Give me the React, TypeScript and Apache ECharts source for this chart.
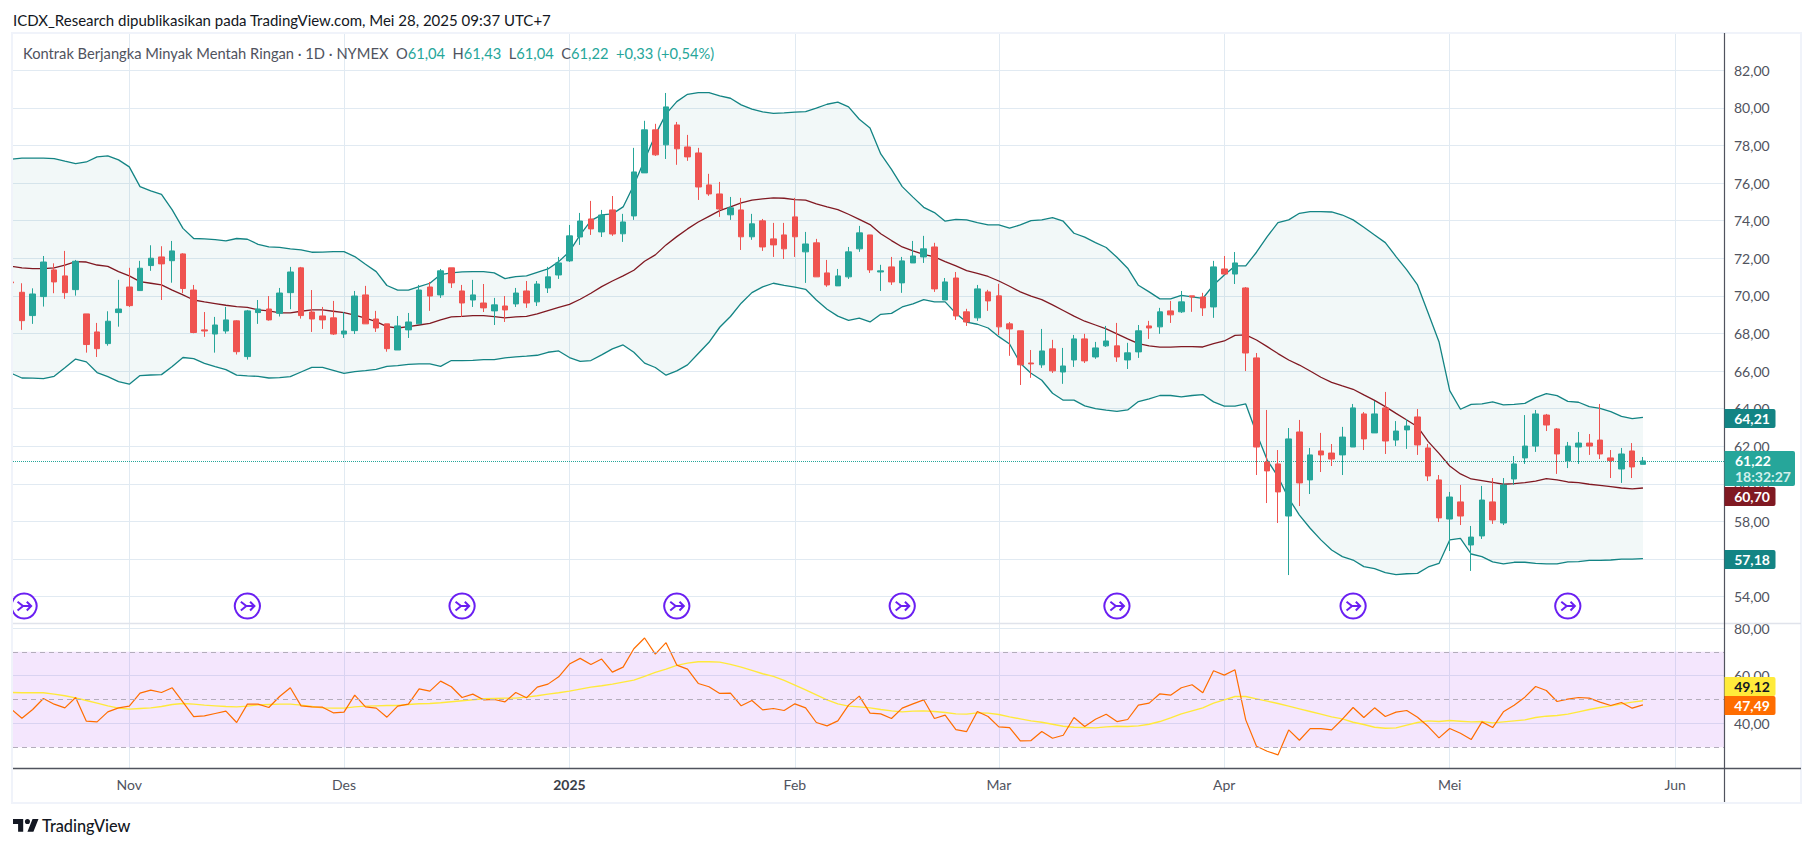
import React, { useEffect, useRef } from "react";
import * as echarts from "echarts";

const opens = [70.74,70.19,68.95,69.96,71.38,71.06,70.33,69.04,68.08,67.46,69.11,70.47,70.28,71.61,72.07,71.87,72.23,70.31,68.19,67.97,68.13,68.67,66.77,69.11,69.30,69.07,70.17,71.49,69.14,68.93,68.83,67.97,68.15,70.05,68.77,68.51,67.12,68.19,68.51,70.47,70.05,71.49,70.26,69.78,69.62,69.20,69.46,69.57,70.26,69.68,70.42,71.11,71.86,73.13,74.09,73.40,74.57,
73.30,74.25,76.54,78.83,78.03,79.09,77.92,77.60,75.90,75.42,74.31,74.57,73.14,73.99,73.03,73.24,74.20,72.34,72.82,71.22,70.53,71.01,72.50,73.24,71.27,71.54,70.69,71.75,72.07,72.60,69.78,70.95,69.15,68.83,70.21,70.00,68.51,68.14,66.43,66.33,67.18,65.95,66.59,67.71,66.75,67.34,67.34,66.59,67.02,68.40,68.35,69.20,69.15,70.00,69.94,69.41,
71.43,71.16,70.42,66.70,61.16,61.06,58.29,62.76,60.21,61.75,61.64,61.54,61.96,63.72,62.71,64.04,62.33,62.87,63.56,61.91,60.21,58.13,59.04,56.75,57.23,59.04,57.92,60.26,61.38,62.01,63.66,62.92,61.22,61.96,62.17,62.33,61.38,60.79,61.75,61.04];
const closes = [70.69,68.68,70.10,71.80,70.74,70.17,71.84,67.41,67.19,68.65,69.30,69.48,71.47,72.00,71.70,72.39,70.39,68.05,68.13,68.45,68.72,67.03,69.20,69.30,68.72,70.15,71.27,68.95,68.77,68.72,67.97,68.13,69.99,68.51,68.29,67.19,68.40,68.61,70.31,69.99,71.33,70.69,69.62,70.05,69.36,69.52,69.25,70.15,69.62,70.63,71.01,71.75,73.19,73.98,73.56,74.30,73.29,
73.93,76.59,78.83,77.50,80.05,77.82,77.39,75.79,75.42,74.62,74.68,73.14,73.83,72.60,72.71,72.50,73.14,72.76,71.01,70.58,71.06,72.34,73.35,71.38,71.33,70.74,71.86,72.12,72.50,70.37,70.74,68.93,68.61,70.37,69.73,68.35,68.24,66.33,66.38,67.07,66.01,66.27,67.71,66.54,67.23,67.60,66.75,66.97,68.14,68.29,69.15,68.99,69.68,69.94,69.36,71.54,
71.16,71.75,66.96,61.96,60.69,59.57,62.39,60.05,61.54,61.54,61.32,62.49,64.04,62.39,63.72,62.28,62.81,63.08,62.07,60.42,58.19,59.30,58.29,57.17,59.14,58.08,59.94,61.06,62.01,63.72,63.13,61.59,62.01,62.17,62.01,61.59,61.24,61.59,60.90,61.22];
const highs = [70.76,70.67,70.40,72.12,71.73,72.39,71.91,69.04,68.56,69.18,70.85,71.49,71.86,72.69,72.64,72.92,72.27,70.58,69.14,68.88,69.41,68.70,69.25,69.78,69.99,70.42,71.54,71.54,70.31,69.41,69.73,69.14,70.26,70.53,69.20,68.51,68.93,69.09,70.58,70.74,71.43,71.49,70.58,70.85,70.63,69.89,69.99,70.42,70.79,70.79,71.54,72.07,73.77,74.41,75.05,74.57,75.31,
74.36,77.87,79.31,79.15,80.79,79.25,78.56,77.87,76.49,76.06,75.26,75.21,74.36,74.09,73.88,73.88,75.21,73.40,73.03,71.91,71.43,72.60,73.72,73.24,71.65,72.07,72.07,72.92,73.19,72.82,70.95,71.27,69.31,70.58,70.32,70.64,68.61,68.14,67.12,68.24,67.66,67.23,67.92,67.98,67.55,68.40,68.56,67.50,68.45,68.67,69.36,69.73,70.26,70.00,70.16,71.86,
72.12,72.33,70.47,66.96,63.93,61.80,62.97,63.40,61.91,62.71,62.12,63.03,64.25,63.82,64.41,64.89,63.34,63.45,63.98,62.12,60.47,59.57,59.94,57.76,59.89,60.31,60.31,61.48,63.66,63.93,63.72,62.97,62.23,62.76,62.65,64.25,61.80,61.91,62.17,61.43];
const lows = [70.67,68.19,68.51,69.43,70.14,69.84,70.01,66.98,66.75,67.35,68.36,69.41,70.26,71.33,69.78,70.70,70.14,68.01,67.82,66.98,67.99,66.88,66.61,68.51,68.68,68.90,69.29,68.79,68.08,68.24,67.92,67.76,67.97,68.51,68.08,67.03,67.12,67.76,68.51,69.20,69.89,70.42,68.88,69.41,69.14,68.45,68.61,69.41,69.36,69.46,70.15,70.90,71.80,72.71,73.24,73.13,73.19,
72.87,74.04,76.54,77.44,77.28,76.97,77.18,75.10,75.32,74.20,74.04,72.44,72.98,72.39,72.07,71.96,72.07,70.69,71.01,70.48,70.53,70.90,72.34,71.22,70.26,70.58,70.16,71.75,71.75,70.21,69.78,68.72,68.40,68.67,69.20,67.92,66.81,65.26,65.64,66.17,65.90,65.32,66.22,66.43,66.65,67.28,66.49,66.11,66.70,67.71,67.98,68.56,69.09,69.15,68.93,68.83,
71.16,70.63,66.00,60.47,58.98,57.92,55.15,58.82,59.46,60.63,60.95,60.47,61.96,61.80,62.71,61.59,62.01,61.86,61.54,60.15,57.97,56.43,57.81,55.37,57.07,57.87,57.81,59.94,61.06,61.70,62.81,60.53,60.84,61.06,61.54,61.32,60.31,60.05,60.31,61.04];

const bbUpper = [77.27,77.32,77.32,77.32,77.30,77.16,77.03,77.12,77.39,77.44,77.23,76.86,75.81,75.58,75.40,74.57,73.59,73.05,73.03,72.99,72.92,73.05,73.01,72.74,72.60,72.58,72.50,72.44,72.32,72.33,72.35,72.35,72.09,71.68,71.29,70.55,70.30,70.30,70.49,70.67,71.13,71.22,71.27,71.29,71.29,71.22,70.92,71.02,71.06,71.25,71.43,71.82,72.35,73.24,74.00,
74.31,74.36,74.73,75.90,77.23,78.56,79.68,80.33,80.72,80.81,80.81,80.64,80.51,80.16,79.93,79.78,79.71,79.73,79.77,79.80,79.98,80.19,80.30,80.05,79.39,78.93,77.55,76.73,75.81,75.25,74.71,74.43,73.97,74.07,74.04,73.90,73.77,73.77,73.60,73.77,74.00,74.04,74.16,73.97,73.33,73.12,72.83,72.57,72.05,71.47,70.56,70.21,69.84,69.84,70.03,69.94,69.86,70.58,
71.11,71.59,71.59,72.32,73.15,73.89,74.04,74.39,74.48,74.48,74.46,74.30,74.04,73.65,73.24,72.83,72.09,71.38,70.58,69.07,67.56,64.96,63.97,64.23,64.25,64.36,64.20,64.23,64.28,64.59,64.80,64.69,64.39,64.34,64.11,64.02,63.84,63.59,63.47,63.54];
const bbMiddle = [71.57,71.49,71.45,71.45,71.49,71.64,71.82,71.80,71.64,71.57,71.29,71.06,70.76,70.67,70.58,70.30,70.05,69.78,69.68,69.59,69.50,69.43,69.39,69.25,69.20,69.09,69.09,69.18,69.25,69.25,69.18,69.11,68.98,68.81,68.63,68.36,68.29,68.36,68.45,68.54,68.72,68.88,68.91,68.95,68.95,68.90,68.83,68.88,68.91,69.04,69.22,69.39,69.55,69.82,70.14,
70.49,70.79,71.06,71.36,71.84,72.18,72.71,73.15,73.56,73.93,74.23,74.53,74.73,74.94,75.09,75.16,75.21,75.19,75.12,75.09,74.89,74.73,74.59,74.34,74.07,73.79,73.30,72.94,72.60,72.39,72.21,72.07,71.82,71.59,71.34,71.20,71.03,70.79,70.51,70.21,69.98,69.80,69.52,69.22,68.92,68.65,68.45,68.24,67.98,67.71,67.46,67.34,67.27,67.27,67.30,67.30,67.28,67.46,
67.60,67.90,67.92,67.65,67.30,66.93,66.59,66.32,66.00,65.67,65.40,65.21,65.03,64.73,64.44,64.11,63.75,63.40,63.04,62.25,61.62,60.95,60.53,60.26,60.17,60.08,59.98,60.01,60.07,60.15,60.28,60.21,60.10,60.07,59.98,59.92,59.85,59.78,59.73,59.78];
const bbLower = [65.88,65.63,65.62,65.60,65.72,66.17,66.64,66.49,65.92,65.70,65.44,65.30,65.76,65.79,65.81,66.24,66.72,66.66,66.41,66.24,66.08,65.78,65.74,65.72,65.63,65.65,65.70,65.95,66.20,66.20,66.04,65.88,65.97,66.02,66.09,66.25,66.29,66.36,66.38,66.38,66.25,66.56,66.56,66.57,66.61,66.61,66.70,66.75,66.79,66.84,67.00,67.07,66.72,66.52,66.56,
66.86,67.18,67.39,67.00,66.42,66.19,65.78,66.01,66.33,66.93,67.53,68.33,68.90,69.61,70.17,70.48,70.67,70.56,70.46,70.35,69.78,69.29,68.92,68.70,68.81,68.61,69.02,69.07,69.41,69.57,69.80,69.68,69.68,69.07,68.60,68.49,68.29,67.83,67.44,66.42,65.88,65.51,64.82,64.45,64.45,64.15,64.00,63.92,63.86,63.93,64.38,64.52,64.70,64.70,64.63,64.70,64.75,64.36,
64.14,64.14,64.25,62.69,61.27,60.38,59.23,58.34,57.64,57.02,56.48,56.13,55.95,55.60,55.49,55.28,55.17,55.22,55.24,55.58,55.77,57.02,57.10,56.27,56.13,55.85,55.74,55.83,55.83,55.77,55.74,55.74,55.85,55.86,55.93,55.93,55.95,56.00,56.00,56.02];

const rsi = [45.97,42.19,45.83,50.45,48.07,46.53,50.87,40.93,40.65,44.85,46.53,47.23,52.69,53.95,52.97,54.93,48.91,42.88,43.16,44.15,45.13,40.37,48.07,48.07,46.67,51.29,54.93,47.37,46.95,46.81,44.43,44.71,51.85,46.95,46.39,42.61,47.23,48.07,54.51,53.53,57.73,55.35,50.87,52.27,49.89,50.03,49.05,52.97,50.73,55.21,56.47,59.55,64.87,67.26,64.73,66.98,61.51,63.61,71.32,75.80,69.08,73.84,64.45,62.77,56.75,55.35,52.55,52.69,47.37,49.61,45.69,46.25,45.41,48.21,46.53,40.37,38.96,41.07,47.65,51.43,44.29,44.01,42.05,46.39,
48.21,49.89,42.05,43.45,37.42,36.58,44.99,42.89,38.54,38.26,32.66,32.80,36.58,33.78,35.04,42.46,38.68,41.76,43.87,40.78,41.63,47.65,48.49,52.41,51.85,54.93,56.19,52.83,62.07,60.25,62.49,41.48,30.42,28.32,26.78,37.28,32.94,37.84,37.84,37.28,41.76,46.67,42.46,46.53,42.88,44.71,45.41,42.61,38.68,33.92,37.84,35.88,33.22,40.64,38.26,44.85,47.65,51.01,55.49,53.81,49.19,50.17,50.87,50.59,48.91,47.51,48.77,46.39,47.79];
const rsiMa = [52.97,52.83,52.83,52.83,52.27,51.57,50.73,49.61,48.49,47.37,46.39,45.97,46.25,46.53,47.09,47.93,48.35,48.07,47.65,47.37,47.09,46.95,47.23,47.79,47.93,48.07,48.07,47.65,47.09,46.53,46.39,46.39,46.95,47.23,47.37,47.51,47.51,47.93,48.21,48.35,48.63,49.05,49.47,49.89,50.31,50.45,50.59,50.59,51.01,51.57,52.27,52.83,53.53,54.37,55.21,55.77,56.47,57.31,58.15,59.69,61.37,62.77,64.31,65.29,65.85,65.85,65.71,64.73,63.61,62.21,60.81,59.69,58.01,56.05,54.09,51.99,49.89,48.21,47.23,46.95,46.53,45.83,45.27,44.85,
45.13,45.27,44.99,44.57,44.01,43.87,44.43,44.29,43.73,42.75,41.91,41.07,40.50,39.66,38.82,38.40,38.26,38.12,38.54,38.82,38.68,38.96,39.66,40.78,42.33,44.01,45.27,46.53,48.49,49.89,51.29,51.29,50.31,49.33,48.35,47.23,46.11,44.99,43.87,42.75,41.91,40.50,39.52,38.40,37.98,38.12,39.25,40.37,41.07,40.78,41.20,40.92,40.64,40.78,40.22,40.64,41.07,41.48,42.46,43.03,43.31,43.87,44.85,45.83,46.67,47.37,48.21,48.91,49.47];

const monthIndex = [11, 31, 52, 73, 92, 113, 134, 155];
const monthLabels = ["Nov", "Des", "2025", "Feb", "Mar", "Apr", "Mei", "Jun"];
const priceTicks = [54, 56, 58, 60, 62, 64, 66, 68, 70, 72, 74, 76, 78, 80, 82];
const rsiTicks = [40, 60, 80];
const rsiLevels = [30, 50, 70];
const eventIndex = [1.2, 22, 42, 62, 83, 103, 125, 145];
const eventLevel = 53.5;
const lastPrice = 61.22;

const FONT = "Lato";
const C_UP = "#26a69a";
const C_DOWN = "#ef5350";
const C_BB = "#138484";
const C_BBM = "#801922";
const C_GRID = "#e1eaf2";
const C_TEXT = "#50535e";

const ICON =
  "path://M13 1.5a11.5 11.5 0 1 0 0.01 0ZM7 9L12 13L7 17M12 13L19.5 13M15.5 9L19.5 13L15.5 17";
const LOGO = "M14 6H2v6h6v9h6V6Zm12 15h-7l6-15h7l-6 15Zm-7-9a3 3 0 1 0 0-6 3 3 0 0 0 0 6Z";

const fmt = (v: number) => v.toFixed(2).replace(".", ",");
const pts = (a: number[]) => a.map((v, i) => [i, v]);

function tag(y0: number, y1: number, w: number, bg: string, fg: string, label: string) {
  return [
    { type: "rect", z: 100, shape: { x: 1724.5, y: y0, width: w, height: y1 - y0, r: [0, 2, 2, 0] }, style: { fill: bg } },
    {
      type: "text", z: 101, x: 1752, y: (y0 + y1) / 2,
      style: { text: label, fill: fg, font: `bold 14px ${FONT}`, align: "center", verticalAlign: "middle" },
    },
  ];
}

function lineSeries(name: string, data: number[], color: string, width: number, xAxisIndex = 0) {
  return {
    type: "line", name, data: pts(data), xAxisIndex, yAxisIndex: xAxisIndex, showSymbol: false, symbol: "none",
    silent: true, lineStyle: { color, width }, z: 3,
  };
}

export default function App() {
  const ref = useRef<HTMLDivElement>(null);
  useEffect(() => {
    document.body.style.margin = "0";
    if (!ref.current) return;
    echarts.graphic.registerShape("tvlogo", echarts.graphic.extendPath(LOGO, {}));
    const chart = echarts.init(ref.current, undefined, { renderer: "svg" });
    const xMin = 0.168;
    const xMax = 159.55;
    const xBase = {
      type: "value", min: xMin, max: xMax,
      splitLine: { show: true, lineStyle: { color: C_GRID, width: 1 } },
      axisLine: { show: false },
    };
    chart.setOption({
      animation: false,
      backgroundColor: "#ffffff",
      grid: [
        { left: 13, top: 33, width: 1711, height: 590 },
        { left: 13, top: 623, width: 1711, height: 145 },
      ],
      xAxis: [
        { ...xBase, gridIndex: 0, axisTick: { show: false, customValues: monthIndex }, axisLabel: { show: false, customValues: monthIndex } },
        {
          ...xBase, gridIndex: 1,
          axisTick: { show: false, customValues: monthIndex },
          axisLabel: {
            show: true, customValues: monthIndex, margin: 9,
            color: C_TEXT, fontFamily: FONT, fontSize: 14,
            formatter: (v: number) => {
              const s = monthLabels[monthIndex.indexOf(Math.round(v))] ?? "";
              return s === "2025" ? `{b|${s}}` : s;
            },
            rich: { b: { fontWeight: "bold", color: "#3a3d48", fontFamily: FONT, fontSize: 14 } },
          },
        },
      ],
      yAxis: [
        {
          type: "value", gridIndex: 0, position: "right", min: 52.6, max: 83.98,
          splitLine: { show: true, lineStyle: { color: C_GRID, width: 1 } },
          axisLine: { show: false },
          axisTick: { show: false, customValues: priceTicks },
          axisLabel: { customValues: priceTicks, margin: 10, padding: [0, 0, 2, 0], color: C_TEXT, fontFamily: FONT, fontSize: 14, formatter: fmt },
        },
        {
          type: "value", gridIndex: 1, position: "right", min: 21.3, max: 82.1,
          splitLine: { show: true, lineStyle: { color: C_GRID, width: 1 } },
          axisLine: { show: false },
          axisTick: { show: false, customValues: rsiTicks },
          axisLabel: { customValues: rsiTicks, margin: 10, padding: [0, 0, 2, 0], color: C_TEXT, fontFamily: FONT, fontSize: 14, formatter: fmt },
        },
      ],
      series: [
        {
          type: "custom", name: "bbFill", coordinateSystem: "cartesian2d", xAxisIndex: 0, yAxisIndex: 0,
          clip: true, silent: true, z: 1,
          data: bbUpper.map((v, i) => [i, v, bbLower[i]]),
          encode: { x: 0, y: [1, 2] },
          renderItem: (params: any, api: any) => {
            if (params.dataIndex !== 0) return null;
            const top = bbUpper.map((v, i) => api.coord([i, v]));
            const bottom = bbLower.map((v, i) => api.coord([i, v])).reverse();
            return {
              type: "polygon", silent: true,
              shape: { points: [...top, ...bottom] },
              style: { fill: "rgba(19,132,132,0.055)", stroke: "none" },
            };
          },
        },
        lineSeries("bbUpper", bbUpper, C_BB, 1.3),
        lineSeries("bbLower", bbLower, C_BB, 1.3),
        lineSeries("bbMiddle", bbMiddle, C_BBM, 1.3),
        {
          type: "candlestick", name: "price", z: 5, barWidth: 6, silent: true,
          data: opens.map((o, i) => [i, o, closes[i], lows[i], highs[i]]),
          itemStyle: { color: C_UP, color0: C_DOWN, borderColor: C_UP, borderColor0: C_DOWN, borderWidth: 1 },
          markLine: {
            silent: true, symbol: "none", label: { show: false },
            lineStyle: { color: C_UP, type: "dotted", width: 1 },
            data: [{ yAxis: lastPrice }],
          },
        },
        {
          type: "scatter", name: "events", z: 6, silent: true, symbol: ICON, symbolSize: 25, symbolKeepAspect: true,
          data: eventIndex.map((x) => [x, eventLevel]),
          itemStyle: { color: "#ffffff", borderColor: "#6a1ff2", borderWidth: 2, opacity: 1 },
        },
        {
          ...lineSeries("rsiMa", rsiMa, "#ffe93b", 1.4, 1),
          markArea: {
            silent: true, itemStyle: { color: "rgba(155,28,237,0.11)" },
            data: [[{ yAxis: rsiLevels[0] }, { yAxis: rsiLevels[2] }]],
          },
          markLine: {
            silent: true, symbol: "none", label: { show: false },
            lineStyle: { color: "#b3adbb", type: [5, 4], width: 1 },
            data: rsiLevels.map((v) => ({ yAxis: v })),
          },
        },
        lineSeries("rsi", rsi, "#ff6d00", 1.2, 1),
      ],
      graphic: [
        { type: "rect", z: 19, silent: true, shape: { x: 0, y: 34, width: 12, height: 770 }, style: { fill: "#ffffff" } },
        { type: "rect", z: 20, silent: true, shape: { x: 12, y: 33, width: 1789, height: 770 }, style: { fill: "none", stroke: "#f0f3fa", lineWidth: 2 } },
        { type: "line", z: 21, shape: { x1: 13, y1: 623.5, x2: 1801, y2: 623.5 }, style: { stroke: "#e0e3eb", lineWidth: 1.5 } },
        { type: "line", z: 21, shape: { x1: 13, y1: 768.5, x2: 1801, y2: 768.5 }, style: { stroke: "#50535e", lineWidth: 1.5 } },
        { type: "line", z: 21, shape: { x1: 1724.5, y1: 33, x2: 1724.5, y2: 802 }, style: { stroke: "#50535e", lineWidth: 1.2 } },
        {
          type: "text", z: 30, x: 13, y: 19.5,
          style: {
            text: "ICDX_Research dipublikasikan pada TradingView.com, Mei 28, 2025 09:37 UTC+7",
            fill: "#131722", font: `15px ${FONT}`, verticalAlign: "middle",
          },
        },
        {
          type: "text", z: 30, x: 23, y: 53,
          style: {
            text: "{g|Kontrak Berjangka Minyak Mentah Ringan · 1D · NYMEX  O}{t|61,04  }{g|H}{t|61,43  }{g|L}{t|61,04  }{g|C}{t|61,22  +0,33 (+0,54%)}",
            verticalAlign: "middle",
            rich: {
              g: { fill: C_TEXT, font: `14.7px ${FONT}` },
              t: { fill: C_UP, font: `14.7px ${FONT}` },
            },
          },
        },
        ...tag(409, 428, 51, C_BB, "#ffffff", "64,21"),
        { type: "rect", z: 100, shape: { x: 1724.5, y: 451, width: 70.5, height: 35, r: [0, 2, 2, 0] }, style: { fill: C_UP } },
        { type: "text", z: 101, x: 1735, y: 460, style: { text: "61,22", fill: "#ffffff", font: `bold 14px ${FONT}`, verticalAlign: "middle" } },
        { type: "text", z: 101, x: 1735, y: 476, style: { text: "18:32:27", fill: "#d3f0ec", font: `bold 14px ${FONT}`, verticalAlign: "middle" } },
        ...tag(487, 506, 51, C_BBM, "#ffffff", "60,70"),
        ...tag(550, 569, 51, C_BB, "#ffffff", "57,18"),
        ...tag(677, 696, 51, "#ffeb3b", "#131722", "49,12"),
        ...tag(696, 715, 51, "#ff6d00", "#ffffff", "47,49"),
        { type: "tvlogo", z: 30, x: 11.3, y: 813.8, scaleX: 0.85, scaleY: 0.85, style: { fill: "#131722" } },
        { type: "text", z: 30, x: 42, y: 825, style: { text: "TradingView", fill: "#131722", font: `500 16.3px ${FONT}`, verticalAlign: "middle" } },
      ],
    });
    return () => chart.dispose();
  }, []);
  return <div ref={ref} style={{ position: "fixed", left: 0, top: 0, width: 1814, height: 847 }} />;
}
